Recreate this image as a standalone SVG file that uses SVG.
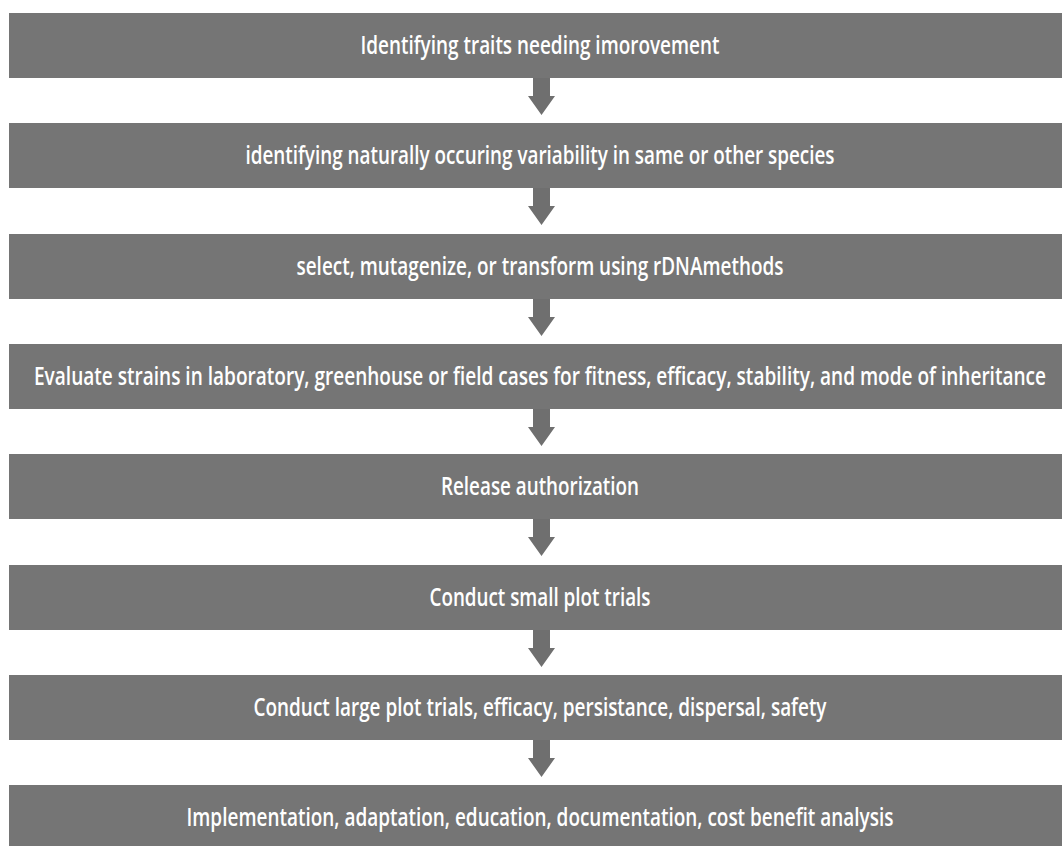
<svg xmlns="http://www.w3.org/2000/svg" width="1062" height="846" viewBox="0 0 1062 846">
  <style>
    .bar { fill: #757575; }
    .lbl { fill: #ffffff; font-family: "Open Sans", "Liberation Sans", sans-serif; font-weight: 600; font-size: 25px; text-anchor: middle; }
    .arrow { fill: #6f6f6f; }
  </style>
  <defs>
    <!-- block down-arrow, origin at the bottom edge of the step above -->
    <polygon id="down" points="533,0 550,0 550,18 555,18 541.5,37 528,18 533,18"/>
  </defs>
  <rect width="1062" height="846" fill="#ffffff"/>

  <g id="connectors">
    <use href="#down" class="arrow" y="78"/>
    <use href="#down" class="arrow" y="188"/>
    <use href="#down" class="arrow" y="299"/>
    <use href="#down" class="arrow" y="409"/>
    <use href="#down" class="arrow" y="519"/>
    <use href="#down" class="arrow" y="630"/>
    <use href="#down" class="arrow" y="740"/>
  </g>

  <g id="step1">
    <rect class="bar" x="9" y="13" width="1053" height="65"/>
    <text class="lbl" x="540" y="54" textLength="359" lengthAdjust="spacingAndGlyphs">Identifying traits needing imorovement</text>
  </g>
  <g id="step2">
    <rect class="bar" x="9" y="123" width="1053" height="65"/>
    <text class="lbl" x="540" y="164" textLength="589" lengthAdjust="spacingAndGlyphs">identifying naturally occuring variability in same or other species</text>
  </g>
  <g id="step3">
    <rect class="bar" x="9" y="234" width="1053" height="65"/>
    <text class="lbl" x="540" y="275" textLength="487" lengthAdjust="spacingAndGlyphs">select, mutagenize, or transform using rDNAmethods</text>
  </g>
  <g id="step4">
    <rect class="bar" x="9" y="344" width="1053" height="65"/>
    <text class="lbl" x="540" y="385" textLength="1012" lengthAdjust="spacingAndGlyphs">Evaluate strains in laboratory, greenhouse or field cases for fitness, efficacy, stability, and mode of inheritance</text>
  </g>
  <g id="step5">
    <rect class="bar" x="9" y="454" width="1053" height="65"/>
    <text class="lbl" x="540" y="495" textLength="198" lengthAdjust="spacingAndGlyphs">Release authorization</text>
  </g>
  <g id="step6">
    <rect class="bar" x="9" y="565" width="1053" height="65"/>
    <text class="lbl" x="540" y="606" textLength="221" lengthAdjust="spacingAndGlyphs">Conduct small plot trials</text>
  </g>
  <g id="step7">
    <rect class="bar" x="9" y="675" width="1053" height="65"/>
    <text class="lbl" x="540" y="716" textLength="573" lengthAdjust="spacingAndGlyphs">Conduct large plot trials, efficacy, persistance, dispersal, safety</text>
  </g>
  <g id="step8">
    <rect class="bar" x="9" y="785" width="1053" height="61"/>
    <text class="lbl" x="540" y="826" textLength="707" lengthAdjust="spacingAndGlyphs">Implementation, adaptation, education, documentation, cost benefit analysis</text>
  </g>
</svg>
